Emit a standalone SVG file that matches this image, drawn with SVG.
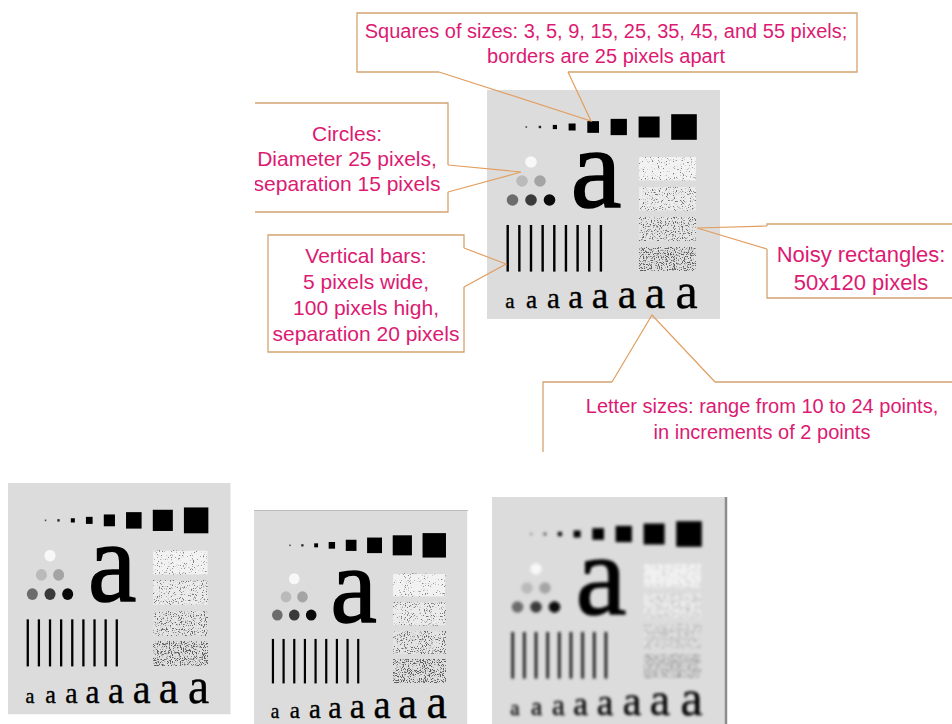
<svg xmlns="http://www.w3.org/2000/svg" xmlns:xlink="http://www.w3.org/1999/xlink" width="952" height="724" viewBox="0 0 952 724">
<style>
.bg{fill:#dcdcdc}
.boxfill{fill:#ffffff;stroke:none}
.boxline{fill:none;stroke:#d4a472;stroke-width:1.3}
.lbl{font-family:"Liberation Sans",Arial,sans-serif;fill:#dc1a72;text-anchor:middle}
.conn{fill:none;stroke:#e29e60;stroke-width:1.2}
.ser{font-family:"Liberation Serif","Times New Roman",serif;fill:#000;text-anchor:middle}
</style>
<defs>
<filter id="n1" x="0" y="0" width="1" height="1" color-interpolation-filters="sRGB">
<feTurbulence type="fractalNoise" baseFrequency="0.87" numOctaves="2" seed="4"/>
<feColorMatrix type="matrix" values="0 0 0 0 0.5 0 0 0 0 0.5 0 0 0 0 0.5 8 0 0 0 -5.0"/>
</filter>
<filter id="n2" x="0" y="0" width="1" height="1" color-interpolation-filters="sRGB">
<feTurbulence type="fractalNoise" baseFrequency="0.87" numOctaves="2" seed="9"/>
<feColorMatrix type="matrix" values="0 0 0 0 0.45 0 0 0 0 0.45 0 0 0 0 0.45 8 0 0 0 -4.7"/>
</filter>
<filter id="n3" x="0" y="0" width="1" height="1" color-interpolation-filters="sRGB">
<feTurbulence type="fractalNoise" baseFrequency="0.87" numOctaves="2" seed="17"/>
<feColorMatrix type="matrix" values="0 0 0 0 0.4 0 0 0 0 0.4 0 0 0 0 0.4 8 0 0 0 -4.45"/>
</filter>
<filter id="n4" x="0" y="0" width="1" height="1" color-interpolation-filters="sRGB">
<feTurbulence type="fractalNoise" baseFrequency="0.87" numOctaves="2" seed="23"/>
<feColorMatrix type="matrix" values="0 0 0 0 0.36 0 0 0 0 0.36 0 0 0 0 0.36 8 0 0 0 -4.2"/>
</filter>
<filter id="blur" x="-5%" y="-5%" width="110%" height="110%">
<feGaussianBlur stdDeviation="1.7"/>
</filter>
<g id="tp">
<g fill="#000">
<rect x="38.5" y="36.2" width="1.6" height="1.6" fill="#444"/>
<rect x="51.7" y="35.8" width="2.4" height="2.4" fill="#222"/>
<rect x="65.8" y="34.9" width="4.2" height="4.2"/>
<rect x="81.6" y="33.5" width="7" height="7"/>
<rect x="100.3" y="31.15" width="11.7" height="11.7"/>
<rect x="123.6" y="28.85" width="16.3" height="16.3"/>
<rect x="151.6" y="26.5" width="21" height="21"/>
<rect x="184.2" y="24.2" width="25.6" height="25.6"/>
</g>
<circle cx="44" cy="72" r="5.8" fill="#f8f8f8"/>
<circle cx="35" cy="91" r="5.8" fill="#bababa"/>
<circle cx="53" cy="91" r="5.8" fill="#a4a4a4"/>
<circle cx="25.5" cy="110" r="5.8" fill="#6c6c6c"/>
<circle cx="44" cy="110" r="5.8" fill="#3a3a3a"/>
<circle cx="62.5" cy="110" r="5.8" fill="#0a0a0a"/>
<text class="ser" x="109" y="117" font-size="114" stroke="#000" stroke-width="1.6">a</text>
<rect x="152" y="67" width="57" height="23.5" fill="#f2f2f2"/>
<rect x="152" y="67" width="57" height="23.5" fill="#000" filter="url(#n1)"/>
<rect x="152" y="97" width="57" height="23.5" fill="#ebebeb"/>
<rect x="152" y="97" width="57" height="23.5" fill="#000" filter="url(#n2)"/>
<rect x="152" y="127" width="57" height="23.5" fill="#e4e4e4"/>
<rect x="152" y="127" width="57" height="23.5" fill="#000" filter="url(#n3)"/>
<rect x="152" y="157" width="57" height="23.5" fill="#dedede"/>
<rect x="152" y="157" width="57" height="23.5" fill="#000" filter="url(#n4)"/>
<g fill="#000">
<rect x="19.5" y="135" width="2.4" height="46.6"/>
<rect x="31.15" y="135" width="2.4" height="46.6"/>
<rect x="42.8" y="135" width="2.4" height="46.6"/>
<rect x="54.45" y="135" width="2.4" height="46.6"/>
<rect x="66.1" y="135" width="2.4" height="46.6"/>
<rect x="77.75" y="135" width="2.4" height="46.6"/>
<rect x="89.4" y="135" width="2.4" height="46.6"/>
<rect x="101.05" y="135" width="2.4" height="46.6"/>
<rect x="112.7" y="135" width="2.4" height="46.6"/>
</g>
<g stroke="#000" stroke-width="0.4">
<text class="ser" x="23" y="218" font-size="21">a</text>
<text class="ser" x="44.5" y="218" font-size="25">a</text>
<text class="ser" x="66.5" y="218" font-size="29">a</text>
<text class="ser" x="88.5" y="218" font-size="33">a</text>
<text class="ser" x="113" y="218" font-size="37.5">a</text>
<text class="ser" x="140" y="218" font-size="42">a</text>
<text class="ser" x="168" y="218" font-size="46">a</text>
<text class="ser" x="199.5" y="218" font-size="50">a</text>
</g>
</g>
</defs>

<g id="img-main" transform="translate(487,90)">
<rect class="bg" width="233" height="229"/>
<use href="#tp" xlink:href="#tp"/>
</g>

<g id="img-a" transform="translate(8,483) scale(0.955,1.01)">
<rect class="bg" width="233" height="229"/>
<use href="#tp" xlink:href="#tp"/>
</g>

<g id="img-b" transform="translate(254,510) scale(0.915,0.955)">
<rect class="bg" width="233" height="229"/>
<use href="#tp" xlink:href="#tp"/>
</g>
<line x1="254" y1="510.5" x2="468" y2="510.5" stroke="#bcbcbc" stroke-width="1"/>

<g id="img-c" transform="translate(492,497)">
<rect class="bg" width="234" height="229"/>
<use href="#tp" xlink:href="#tp" filter="url(#blur)"/>
<line x1="234" y1="0" x2="234" y2="229" stroke="#8c8c8c" stroke-width="2.5"/>
</g>

<g id="callout-squares">
<rect class="boxfill" x="357" y="13" width="500" height="59"/>
<path class="boxline" d="M439,72 H357 V13 H857 V72 H568"/>
<text class="lbl" x="606" y="38" font-size="20">Squares of sizes: 3, 5, 9, 15, 25, 35, 45, and 55 pixels;</text>
<text class="lbl" x="606" y="63" font-size="20">borders are 25 pixels apart</text>
</g>

<g id="callout-circles">
<rect class="boxfill" x="255" y="103" width="193" height="109"/>
<path class="boxline" d="M448,192 V212 H255 M255,103 H448 V165"/>
<svg x="255" y="95" width="200" height="125" viewBox="255 95 200 125" overflow="hidden">
<text class="lbl" x="347" y="141" font-size="21">Circles:</text>
<text class="lbl" x="347" y="166" font-size="21">Diameter 25 pixels,</text>
<text class="lbl" x="347" y="191" font-size="21">separation 15 pixels</text>
</svg>
</g>

<g id="callout-bars">
<rect class="boxfill" x="268" y="235" width="196" height="117"/>
<path class="boxline" d="M464,287 V352 H268 V235 H464 V248"/>
<text class="lbl" x="366" y="263" font-size="21">Vertical bars:</text>
<text class="lbl" x="366" y="289" font-size="21">5 pixels wide,</text>
<text class="lbl" x="366" y="315" font-size="21">100 pixels high,</text>
<text class="lbl" x="366" y="341" font-size="21">separation 20 pixels</text>
</g>

<g id="callout-noise">
<rect class="boxfill" x="767" y="224" width="190" height="74"/>
<path class="boxline" d="M767,226 V224 H955 M955,298 H767 V249"/>
<text class="lbl" x="861" y="262" font-size="22">Noisy rectangles:</text>
<text class="lbl" x="861" y="290" font-size="22">50x120 pixels</text>
</g>

<g id="callout-letters">
<rect class="boxfill" x="543" y="382" width="412" height="70"/>
<path class="boxline" d="M612,382 H543 V452 M715,382 H955"/>
<text class="lbl" x="762" y="413" font-size="20">Letter sizes: range from 10 to 24 points,</text>
<text class="lbl" x="762" y="439" font-size="20">in increments of 2 points</text>
</g>

<g id="connectors">
<polyline class="conn" points="439,72 591,121 568,72"/>
<polyline class="conn" points="448,165 521,172 448,192"/>
<polyline class="conn" points="464,248 506,264 464,287"/>
<polyline class="conn" points="767,226 697,228 767,249"/>
<polyline class="conn" points="612,382 652,315 715,382"/>
</g>
</svg>
